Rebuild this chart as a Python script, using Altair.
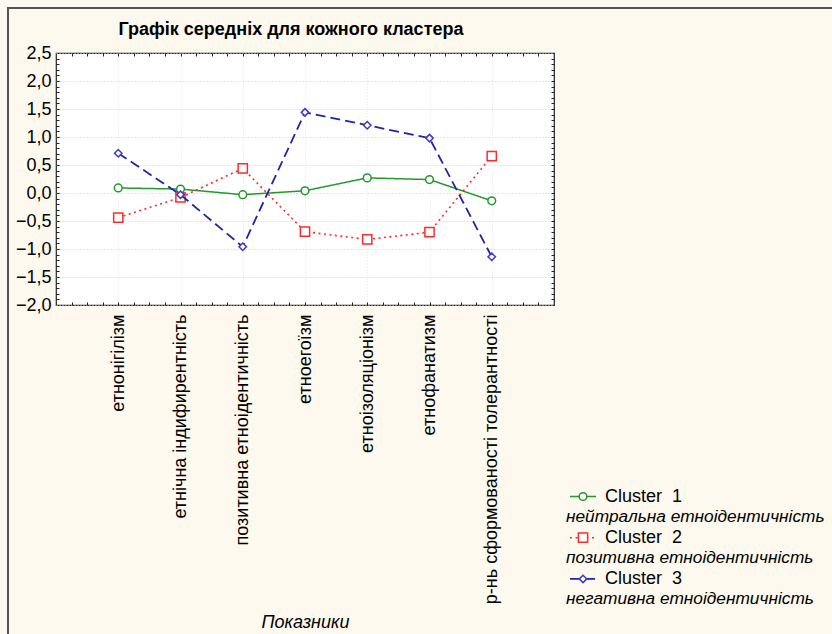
import altair as alt
import pandas as pd

categories = ["етнонігілізм", "етнічна індифирентність", "позитивна етноідентичність",
              "етноегоїзм", "етноізоляціонізм", "етнофанатизм",
              "р-нь сформованості толерантності"]
cluster1 = [0.09, 0.07, -0.03, 0.04, 0.27, 0.24, -0.14]
cluster2 = [-0.44, -0.08, 0.44, -0.69, -0.83, -0.70, 0.66]
cluster3 = [0.71, -0.03, -0.96, 1.44, 1.21, 0.98, -1.14]
cluster_names = ["Cluster \u00a01", "Cluster \u00a02", "Cluster \u00a03"]
cluster_desc = ["нейтральна етноідентичність", "позитивна етноідентичність",
                "негативна етноідентичність"]
y_labels = [-2.0, -1.5, -1.0, -0.5, 0.0, 0.5, 1.0, 1.5, 2.0, 2.5]
title_text = "Графік середніх для кожного кластера"
x_title = "Показники"

FONT = "Liberation Sans"
W, H = 498, 252
PAD_L, PAD_T = 56, 53

colors = ["#22992a", "#ff2a2a", "#2323a8"]
marker_stroke = ["#22992a", "#ff2a2a", "#3b3bc8"]
dashes = [[1, 0], [2, 3.5], [10, 5]]
widths = [1.5, 1.6, 1.8]
shapes = ["circle", "square", "diamond"]
sizes = [60, 85, 55]

series = [cluster1, cluster2, cluster3]
rows = []
for name, vals in zip(cluster_names, series):
    for c, v in zip(categories, vals):
        rows.append({"cat": c, "val": v, "cluster": name})
df = pd.DataFrame(rows)

yscale = alt.Scale(domain=[-2.0, 2.5], nice=False, zero=False)
xscale = alt.Scale(type="point", padding=1.0, domain=categories)

ax_x = alt.Axis(labelAngle=270, labelAlign="right", labelBaseline="middle",
                labelPadding=9, labelFontSize=18, labelFont=FONT,
                labelColor="#000", labelLimit=500, ticks=False, domain=False,
                grid=True, gridColor="#e2e2e2", gridDash=[1, 2],
                titleFont=FONT, titleFontSize=18, titleFontStyle="italic",
                titleFontWeight="normal", titleColor="#000",
                titleY=317, titleBaseline="middle")
ax_y = alt.Axis(values=y_labels, ticks=False, domain=False,
                labelExpr="replace(format(datum.value, '.1f'), '.', ',')",
                labelFontSize=18, labelFont=FONT, labelColor="#000",
                labelPadding=5, labelFlush=False, labelOverlap=False,
                grid=True, gridColor="#cccccc", gridDash=[1, 2])
enc_x = alt.X("cat:N", scale=xscale, sort=categories, title=x_title, axis=ax_x)
enc_y = alt.Y("val:Q", scale=yscale, title=None, axis=ax_y)

base = alt.Chart(df)
one = alt.Chart(pd.DataFrame({"k": [0]}))

layers = []
# outer frame
layers.append(one.mark_rect(fill="transparent", stroke="#555555", strokeWidth=2).encode(
    x=alt.value(8 - PAD_L), x2=alt.value(1000), y=alt.value(8 - PAD_T), y2=alt.value(1000)))

for i, name in enumerate(cluster_names):
    sub = base.transform_filter(alt.datum.cluster == name)
    layers.append(sub.mark_line(color=colors[i], strokeDash=dashes[i],
                                strokeWidth=widths[i]).encode(x=enc_x, y=enc_y))
    layers.append(sub.mark_point(shape=shapes[i], size=sizes[i], filled=True, fill="white",
                                 stroke=marker_stroke[i], strokeWidth=1.5, opacity=1).encode(
        x=enc_x, y=enc_y))

# title
layers.append(one.mark_text(text=title_text, align="center", baseline="middle", font=FONT,
                            fontSize=18, fontWeight="bold", color="#000").encode(
    x=alt.value(291 - PAD_L), y=alt.value(30 - PAD_T)))

# legend
for i in range(3):
    yc = 496.5 + 41.2 * i - PAD_T
    layers.append(one.mark_rule(color=colors[i], strokeDash=dashes[i], strokeWidth=widths[i]).encode(
        x=alt.value(570 - PAD_L), x2=alt.value(596 - PAD_L), y=alt.value(yc)))
    layers.append(one.mark_point(shape=shapes[i], size=sizes[i], filled=True, fill="white",
                                 stroke=marker_stroke[i], strokeWidth=1.5, opacity=1).encode(
        x=alt.value(583 - PAD_L), y=alt.value(yc)))
    layers.append(one.mark_text(text=cluster_names[i], align="left", baseline="middle",
                                font=FONT, fontSize=18, color="#000").encode(
        x=alt.value(605 - PAD_L), y=alt.value(yc)))
    layers.append(one.mark_text(text=cluster_desc[i], align="left", baseline="middle",
                                font=FONT, fontSize=17.3, fontStyle="italic", color="#000").encode(
        x=alt.value(566 - PAD_L), y=alt.value(yc + 20.5)))

main = alt.layer(*layers)

# inward tick marks on all four sides
xq = alt.Scale(domain=[0, 8], nice=False, zero=False)
x_minor = [k * 0.25 for k in range(1, 32)]
y_minor = [round(-2.0 + k * 0.1, 2) for k in range(1, 45)]
tick_ax = dict(labels=False, domain=False, grid=False, ticks=True, tickSize=3,
               tickColor="#222", tickWidth=1, title=None)
tA = one.mark_point(opacity=0).encode(
    x=alt.X("k:Q", scale=xq, axis=alt.Axis(orient="top", offset=-H, values=x_minor, **tick_ax)),
    y=alt.Y("k:Q", scale=yscale, axis=alt.Axis(orient="right", offset=-W, values=y_minor, **tick_ax)))
tB = one.mark_point(opacity=0).encode(
    x=alt.X("k:Q", scale=xq, axis=alt.Axis(orient="bottom", offset=-H, values=x_minor, **tick_ax)),
    y=alt.Y("k:Q", scale=yscale, axis=alt.Axis(orient="left", offset=-W, values=y_minor, **tick_ax)))

chart = alt.layer(main, tA, tB).resolve_scale(x="independent", y="independent").properties(
    width=W, height=H,
    autosize=alt.AutoSizeParams(type="none"),
    padding={"left": PAD_L, "top": PAD_T, "right": 832 - PAD_L - W, "bottom": 634 - PAD_T - H},
    background="#fef9ee",
).configure_view(fill="white", stroke="#222222", strokeWidth=1.2)

chart.save("out.html", embed_options={"renderer": "svg", "actions": False})
